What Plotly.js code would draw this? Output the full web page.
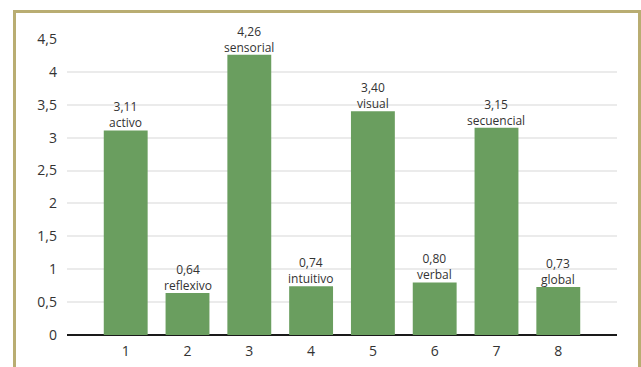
<!DOCTYPE html>
<html><head><meta charset="utf-8">
<script src="https://cdn.plot.ly/plotly-3.0.1.min.js"></script>
<style>
html,body{margin:0;padding:0;background:#fff;overflow:hidden}
#chart{width:641px;height:367px}
#frame{position:absolute;left:13px;top:10px;width:622px;height:400px;border:3px solid #b9ad72;box-sizing:content-box;pointer-events:none}
</style></head>
<body>
<div id="chart"></div>
<div id="frame"></div>
<script>
const categories = [1, 2, 3, 4, 5, 6, 7, 8];
const values = [3.11, 0.64, 4.26, 0.74, 3.40, 0.80, 3.15, 0.73];
const styleNames = ["activo", "reflexivo", "sensorial", "intuitivo", "visual", "verbal", "secuencial", "global"];
const yTicks = [0, 0.5, 1, 1.5, 2, 2.5, 3, 3.5, 4, 4.5];

const fmt = v => v.toFixed(2).replace('.', ',');
const labelFont = {family: 'Open Sans', size: 12, color: '#333'};
const annotations = categories.map((c, i) => ({
  x: c, y: values[i], xref: 'x', yref: 'y',
  text: fmt(values[i]) + '<br>' + styleNames[i],
  showarrow: false, yanchor: 'bottom', yshift: -2, font: labelFont, borderpad: 0
}));

Plotly.newPlot('chart', [{
  type: 'bar',
  x: categories,
  y: values,
  marker: {color: '#6a9e5f'},
  width: 0.71,
  hoverinfo: 'none'
}], {
  width: 641, height: 367,
  margin: {l: 67, r: 24, t: 39, b: 32},
  paper_bgcolor: '#fff', plot_bgcolor: '#fff',
  separators: ',.',
  showlegend: false,
  font: {family: 'Open Sans', size: 14, color: '#333'},
  annotations: annotations,
  xaxis: {
    range: [0.05, 8.95],
    tickvals: categories,
    ticktext: categories.map(String),
    showgrid: false, zeroline: false, showline: false,
    ticks: '', ticklabelstandoff: 6, tickfont: {size: 14, color: '#333'}
  },
  yaxis: {
    range: [0, 4.5],
    tickvals: yTicks,
    ticktext: yTicks.map(v => String(v).replace('.', ',')),
    showgrid: true, gridcolor: '#ebebeb', gridwidth: 2,
    zeroline: true, zerolinecolor: '#1a1a1a', zerolinewidth: 2,
    ticks: '', ticklabelstandoff: 9,
    tickfont: {size: 14, color: '#333'}
  }
}, {staticPlot: true});
</script>
</body></html>
